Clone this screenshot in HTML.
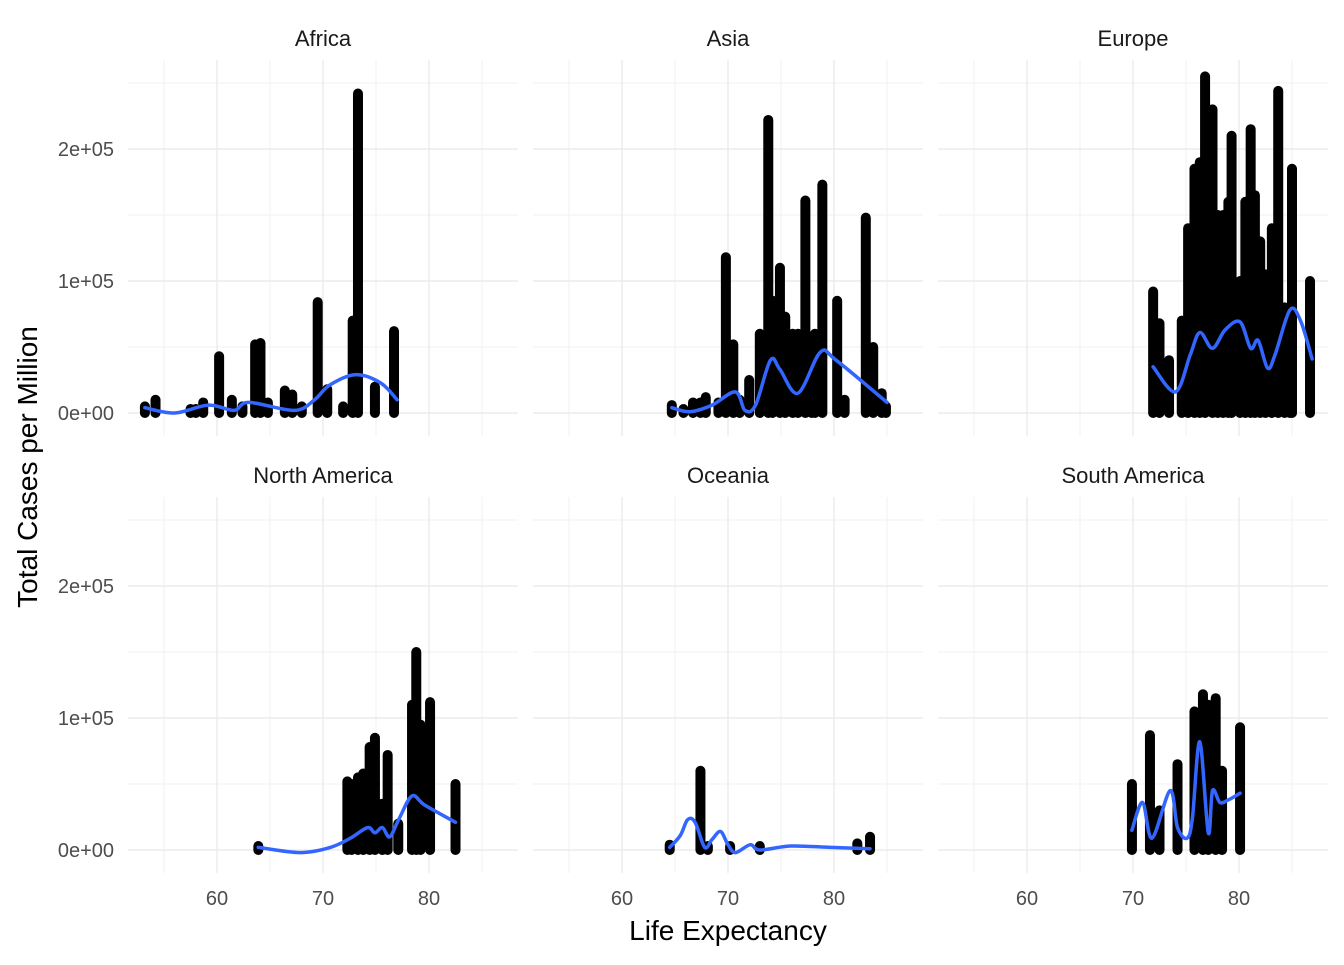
<!DOCTYPE html>
<html><head><meta charset="utf-8"><style>
html,body{margin:0;padding:0;background:#fff}
svg text{font-family:"Liberation Sans",Arial,sans-serif}
</style></head><body>
<svg id="chart" width="1344" height="960" xmlns="http://www.w3.org/2000/svg"></svg>
<script>
const continents=["Africa","Asia","Europe","North America","Oceania","South America"];
const africaBars=[[53.2,5],[54.2,10],[57.5,3],[58,3],[58.7,8],[60.2,43],[61.4,10],[62.4,5],[63.6,52],[64.1,53],[64.8,8],[66.4,17],[67.1,14],[68,5],[69.5,84],[70.4,18],[71.9,5],[72.8,70],[73.3,242],[74.9,20],[76.7,62]];
const asiaBars=[[64.7,6],[65.8,3],[66.7,8],[67.4,8],[67.9,12],[69.1,8],[69.8,118],[70.5,52],[71.1,10],[72,25],[73,60],[73.8,222],[74.2,85],[74.9,110],[75.4,73],[76.1,60],[76.6,60],[77.3,161],[77.9,40],[78.2,60],[78.9,173],[80.3,85],[81,10],[83,148],[83.7,50],[84.5,15],[84.9,5]];
const europeBars=[[71.9,92],[72.5,68],[73.4,40],[74.6,70],[75.2,140],[75.8,185],[76.3,190],[76.8,255],[77.5,230],[78,150],[78.5,150],[79,160],[79.3,210],[80.1,100],[80.6,160],[81.1,215],[81.5,165],[82,130],[82.5,105],[83.1,140],[83.7,244],[84.3,80],[84.8,60],[85,185],[86.7,100]];
const namericaBars=[[63.9,3],[72.3,52],[72.7,50],[73.3,55],[73.8,58],[74.4,78],[74.9,85],[75.6,35],[76.1,72],[77.1,20],[78.4,110],[78.8,150],[79.2,95],[80.1,112],[82.5,50]];
const oceaniaBars=[[64.5,4],[67.4,60],[68.1,3],[70.2,3],[73,3],[82.2,5],[83.4,10]];
const samericaBars=[[69.9,50],[71.6,87],[72.5,30],[74.2,65],[75.8,105],[76.6,118],[77.1,110],[77.8,115],[78.4,60],[80.1,93]];
const africaFit=[[53.2,4],[56,0],[59.2,6],[61.6,2],[63,8],[67.3,2],[69.2,10],[70.6,21],[73,29],[75.4,23],[77,10]];
const asiaFit=[[64.7,4],[66.4,1],[68.5,6],[70.7,16],[71.6,2],[72.6,6],[74,40],[74.9,33],[76.6,15],[78.7,46],[80.2,40],[85,8]];
const europeFit=[[71.9,35],[74,16],[75.4,44],[76.3,61],[77.5,49],[78.7,63],[80.1,69],[81.1,49],[81.8,55],[82.7,34],[83.4,44],[84.8,78],[85.8,70],[86.9,41]];
const namericaFit=[[63.9,2],[67.8,-2],[70.7,2],[72.6,9],[74.2,17],[74.9,13],[75.6,17],[76.3,10],[77.2,24],[78.4,41],[79.6,34],[82.5,21]];
const oceaniaFit=[[64.5,2],[65.5,11],[66.2,23],[66.9,21],[67.8,2],[68.5,8],[69.3,14],[70,4],[70.7,-2],[72.1,4],[73,0],[75.9,3],[79.7,2],[83.4,1]];
const samericaFit=[[69.9,15],[70.9,36],[71.8,9],[73.5,45],[74.2,17],[75.1,9],[75.6,24],[76.3,82],[77.1,13],[77.5,45],[78.2,36],[79,38],[80.1,43]];
const xTicks=[60,70,80];
const yTicks=[0,100,200];
const yTickLabels=["0e+00","1e+05","2e+05"];

const bars=[africaBars,asiaBars,europeBars,namericaBars,oceaniaBars,samericaBars];
const fits=[africaFit,asiaFit,europeFit,namericaFit,oceaniaFit,samericaFit];
const NS="http://www.w3.org/2000/svg";
const svg=document.getElementById('chart');
function mk(tag,attrs,parent){const e=document.createElementNS(NS,tag);for(const k in attrs)e.setAttribute(k,attrs[k]);(parent||svg).appendChild(e);return e;}
const panelLeft=[128,533,938], panelW=390;
const panelTop=[60,497], panelH=376;
const zeroY=[413,850];
function xs(col,v){return panelLeft[col]+89+(v-60)*10.6;}
function ys(row,v){return zeroY[row]-v*1.32;}
function smoothPath(pts){
  let d='M'+pts[0][0].toFixed(1)+','+pts[0][1].toFixed(1);
  for(let i=0;i<pts.length-1;i++){
    const p0=pts[i-1]||pts[i],p1=pts[i],p2=pts[i+1],p3=pts[i+2]||p2;
    const c1x=p1[0]+(p2[0]-p0[0])/6,c1y=p1[1]+(p2[1]-p0[1])/6;
    const c2x=p2[0]-(p3[0]-p1[0])/6,c2y=p2[1]-(p3[1]-p1[1])/6;
    d+='C'+c1x.toFixed(1)+','+c1y.toFixed(1)+' '+c2x.toFixed(1)+','+c2y.toFixed(1)+' '+p2[0].toFixed(1)+','+p2[1].toFixed(1);
  }
  return d;
}

for(let i=0;i<6;i++){
  const col=i%3,row=Math.floor(i/3);
  const g=mk('g',{});
  
  
  const L=panelLeft[col],T=panelTop[row];
  for(const v of [55,65,75,85]) mk('line',{x1:xs(col,v),x2:xs(col,v),y1:T,y2:T+panelH,stroke:'#f2f2f2','stroke-width':1},g);
  for(const v of [50,150,250]) mk('line',{x1:L,x2:L+panelW,y1:ys(row,v),y2:ys(row,v),stroke:'#f2f2f2','stroke-width':1},g);
  for(const v of xTicks) mk('line',{x1:xs(col,v),x2:xs(col,v),y1:T,y2:T+panelH,stroke:'#ebebeb','stroke-width':1.4},g);
  for(const v of yTicks) mk('line',{x1:L,x2:L+panelW,y1:ys(row,v),y2:ys(row,v),stroke:'#ebebeb','stroke-width':1.4},g);
  const st=mk('text',{x:L+panelW/2,y:T-14,'text-anchor':'middle','font-size':'22','fill':'#1a1a1a'},g);
  st.textContent=continents[i];
  
  
  for(const b of bars[i]){
    const l=mk('line',{x1:xs(col,b[0]),x2:xs(col,b[0]),y1:ys(row,0),y2:ys(row,b[1]),stroke:'#000','stroke-width':10,'stroke-linecap':'round'},g);
    
    
  }
  const pts=fits[i].map(p=>[xs(col,p[0]),ys(row,p[1])]);
  const pth=mk('path',{d:smoothPath(pts),fill:'none',stroke:'#3366ff','stroke-width':3.5,'stroke-linejoin':'round','stroke-linecap':'round'},g);
  
  
  if(col===0){
    yTicks.forEach((v,k)=>{
      const t=mk('text',{x:114,y:ys(row,v)+7,'text-anchor':'end','font-size':'20','fill':'#4d4d4d'},g);
      t.textContent=yTickLabels[k];
      
      
    });
  }
  if(row===1){
    for(const v of xTicks){
      const t=mk('text',{x:xs(col,v),y:905,'text-anchor':'middle','font-size':'20','fill':'#4d4d4d'},g);
      t.textContent=v;
      
      
    }
  }
}
const xt=mk('text',{x:728,y:940,'text-anchor':'middle','font-size':'28','fill':'#000'});
xt.textContent='Life Expectancy';


const yt=mk('text',{x:0,y:0,transform:'translate(37,467) rotate(-90)','text-anchor':'middle','font-size':'28','fill':'#000'});
yt.textContent='Total Cases per Million';


</script>
</body></html>
